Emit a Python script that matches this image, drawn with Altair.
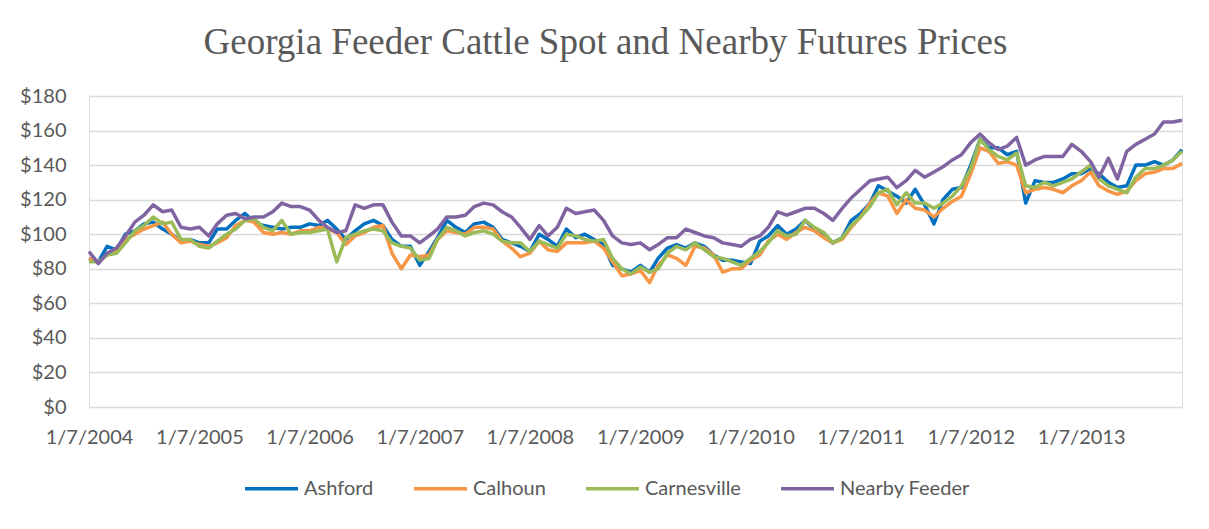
import altair as alt
import pandas as pd

# Monthly readings (7th of each month, Jan 2004 - Dec 2013)
dates = [f"{y}-{m:02d}-07" for y in range(2004, 2014) for m in range(1, 13)]

ashford = [
    86, 84, 93, 91, 100, 102, 106, 107, 103, 100, 96, 97,
    95, 95, 103, 103, 108, 112, 107, 105, 104, 103, 104, 104,
    106, 105, 108, 103, 97, 102, 106, 108, 105, 97, 93, 93,
    82, 90, 98, 108, 104, 101, 106, 107, 104, 97, 95, 93,
    90, 100, 97, 93, 103, 98, 100, 97, 94, 82, 80, 78,
    82, 78, 86, 92, 94, 92, 95, 93, 88, 85, 85, 84,
    83, 96, 99, 105, 100, 103, 108, 103, 100, 95, 98, 108,
    112, 118, 128, 125, 122, 118, 126, 117, 106, 120, 126, 127,
    140, 155, 150, 150, 146, 148, 118, 131, 130, 130, 132, 135,
    135, 138, 135, 130, 127, 128, 140, 140, 142, 140, 143, 149,
]
calhoun = [
    86, 84, 88, 90, 97, 100, 103, 105, 107, 100, 95, 96,
    94, 93, 95, 98, 105, 108, 107, 101, 100, 101, 100, 102,
    102, 104, 103, 101, 94, 99, 101, 104, 105, 89, 80, 88,
    87, 88, 97, 102, 101, 100, 104, 104, 103, 96, 92, 87,
    89, 96, 91, 90, 95, 95, 95, 96, 92, 84, 76, 77,
    79, 72, 82, 88, 86, 82, 93, 92, 88, 78, 80, 80,
    85, 88, 96, 100, 97, 101, 104, 102, 98, 95, 97, 104,
    110, 118, 124, 122, 112, 120, 115, 114, 110, 115, 119, 122,
    135, 150, 148, 141, 142, 140, 124, 126, 127, 126, 124, 128,
    131, 136, 128, 125, 123, 125, 131, 135, 136, 138, 138, 141,
]
carnesville = [
    84, 84, 88, 89, 95, 102, 105, 110, 106, 107, 97, 97,
    93, 92, 96, 100, 103, 108, 109, 104, 102, 108, 100, 101,
    101, 102, 103, 84, 98, 100, 102, 103, 102, 95, 93, 92,
    85, 86, 97, 104, 102, 99, 101, 102, 100, 96, 95, 95,
    90, 96, 94, 92, 100, 99, 97, 96, 97, 86, 80, 77,
    81, 78, 80, 89, 93, 91, 95, 91, 87, 86, 84, 82,
    86, 90, 95, 102, 99, 100, 108, 104, 101, 95, 98, 105,
    110, 116, 124, 126, 117, 124, 118, 118, 115, 118, 122, 128,
    138, 155, 149, 145, 143, 147, 128, 127, 130, 128, 130, 132,
    136, 140, 132, 128, 126, 124, 133, 138, 138, 140, 143, 148,
]
nearby_feeder = [
    90, 83, 89, 92, 99, 107, 111, 117, 113, 114, 104, 103,
    104, 99, 106, 111, 112, 109, 110, 110, 113, 118, 116, 116,
    114, 108, 104, 101, 102, 117, 115, 117, 117, 107, 99, 99,
    95, 99, 103, 110, 110, 111, 116, 118, 117, 113, 110, 104,
    97, 105, 99, 104, 115, 112, 113, 114, 108, 99, 95, 94,
    95, 91, 94, 98, 98, 103, 101, 99, 98, 95, 94, 93,
    97, 99, 104, 113, 111, 113, 115, 115, 112, 108, 115, 121,
    126, 131, 132, 133, 127, 131, 137, 133, 136, 139, 143, 146,
    153, 158, 153, 149, 151, 156, 140, 143, 145, 145, 145, 152,
    148, 142, 133, 144, 132, 148, 152, 155, 158, 165, 165, 166,
]

series_names = ["Ashford", "Calhoun", "Carnesville", "Nearby Feeder"]
series_values = [ashford, calhoun, carnesville, nearby_feeder]
series_colors = ["#0070C0", "#F79646", "#9BBB59", "#8064A2"]
year_ticks = [f"{y}-01-07" for y in range(2004, 2014)]
y_ticks = list(range(0, 181, 20))

rows = []
for name, vals in zip(series_names, series_values):
    for d, v in zip(dates, vals):
        rows.append({"date": d, "series": name, "price": v})
df = pd.DataFrame(rows)

font = "Lato"
grey = "#595959"

chart = (
    alt.Chart(df)
    .mark_line(strokeWidth=3.5, strokeJoin="round")
    .encode(
        x=alt.X(
            "date:T",
            title=None,
            scale=alt.Scale(nice=False),
            axis=alt.Axis(
                values=year_ticks,
                format="%-m/%-d/%Y",
                labelFontSize=20,
                labelColor=grey,
                labelFont=font,
                labelPadding=20,
                ticks=False,
                domain=False,
                grid=False,
                labelOverlap=False,
                labelFlush=False,
            ),
        ),
        y=alt.Y(
            "price:Q",
            title=None,
            scale=alt.Scale(domain=[0, 180], nice=False),
            axis=alt.Axis(
                values=y_ticks,
                format="$,.0f",
                labelFontSize=20,
                labelColor=grey,
                labelFont=font,
                labelPadding=23,
                ticks=False,
                domain=False,
                gridColor="#d9d9d9",
                gridWidth=1.3,
            ),
        ),
        color=alt.Color(
            "series:N",
            scale=alt.Scale(domain=series_names, range=series_colors),
            sort=series_names,
            legend=alt.Legend(
                title=None,
                orient="none",
                direction="horizontal",
                legendX=154,
                legendY=364,
                symbolType="stroke",
                symbolSize=2809,
                symbolStrokeWidth=3.5,
                labelFontSize=20,
                labelFont=font,
                labelColor=grey,
                labelOffset=4,
                columnPadding=33,
            ),
        ),
    )
    .properties(
        width=1093,
        height=311,
        title=alt.Title(
            "Georgia Feeder Cattle Spot and Nearby Futures Prices",
            font="Liberation Serif",
            fontSize=37,
            fontWeight="normal",
            color=grey,
            anchor="middle",
            dx=-30,
            offset=24,
        ),
        padding={"left": 81, "top": 88, "right": 19, "bottom": 100},
        autosize=alt.AutoSizeParams(type="none"),
    )
    .configure_view(stroke=None)
    .configure(background="white")
)

chart.save("out.html", embed_options={"renderer": "svg", "actions": False})
